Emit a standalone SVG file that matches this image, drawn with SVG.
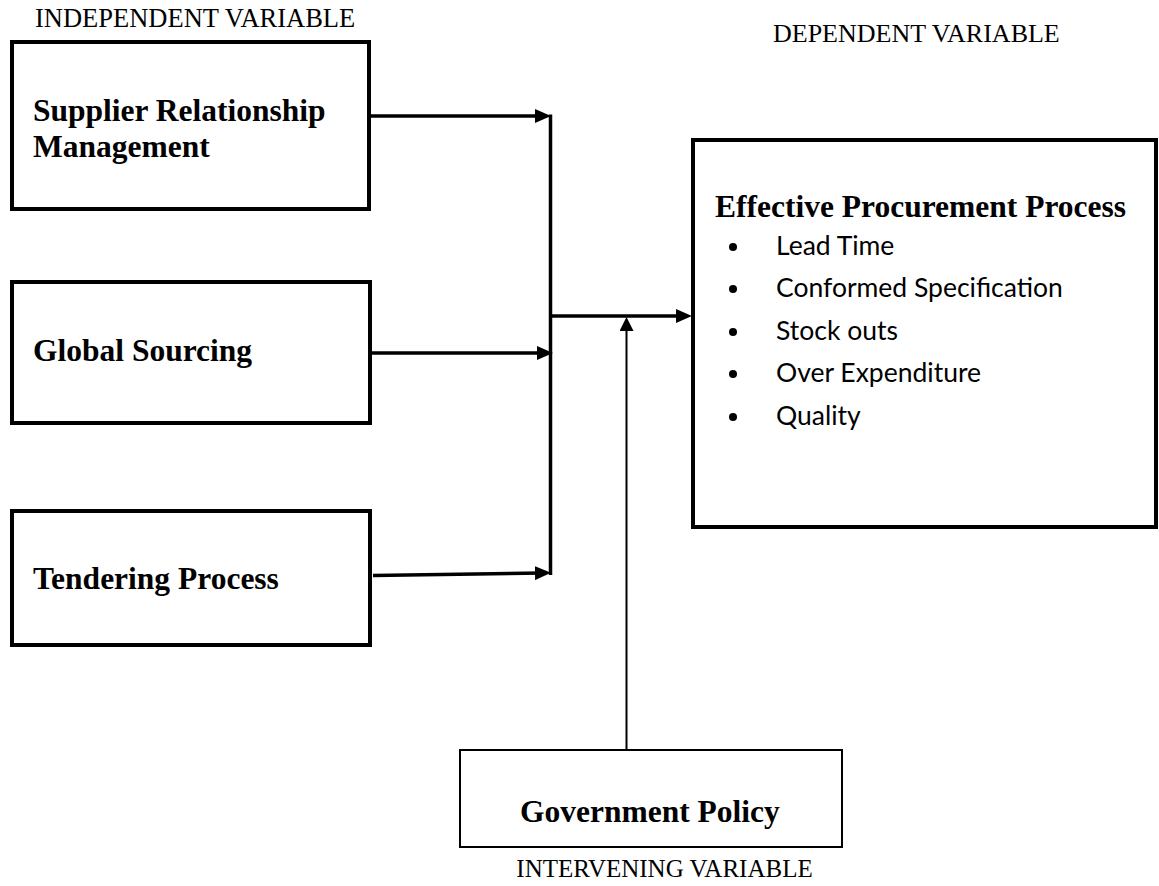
<svg xmlns="http://www.w3.org/2000/svg" width="1159" height="886" viewBox="0 0 1159 886">
<style>
.box{fill:#fff;stroke:#000;stroke-width:4}
.thin{fill:#fff;stroke:#000;stroke-width:2}
.title{font-family:"Liberation Serif","Times New Roman",serif;font-weight:bold;font-size:31.5px;fill:#000}
.label{font-family:"Liberation Serif","Times New Roman",serif;font-size:26px;fill:#000}
.item{font-family:Lato,"Open Sans",sans-serif;font-size:26.5px;fill:#000}
.conn{fill:none;stroke:#000;stroke-width:3.5}
.conn2{fill:none;stroke:#000;stroke-width:2}
</style>
<defs>
<marker id="ah" viewBox="0 0 16 14" refX="7" refY="7" markerWidth="16" markerHeight="14" markerUnits="userSpaceOnUse" orient="auto">
<path d="M0,0 L16,7 L0,14 z" fill="#000"/>
</marker>
<marker id="ah2" viewBox="0 0 14 14" refX="5" refY="7" markerWidth="14" markerHeight="14" markerUnits="userSpaceOnUse" orient="auto">
<path d="M0,0 L14,7 L0,14 z" fill="#000"/>
</marker>
</defs>
<rect width="1159" height="886" fill="#fff"/>
<text class="label" x="35" y="27" style="font-size:26.5px">INDEPENDENT VARIABLE</text>
<text class="label" x="773" y="42">DEPENDENT VARIABLE</text>
<text class="label" x="664.5" y="877" text-anchor="middle" style="font-size:25px">INTERVENING VARIABLE</text>
<g id="connectors">
<line class="conn" x1="369" y1="116" x2="542" y2="116" marker-end="url(#ah)"/>
<line class="conn" x1="372" y1="353" x2="544" y2="353" marker-end="url(#ah)"/>
<line class="conn" x1="373" y1="575.5" x2="542" y2="573" marker-end="url(#ah)"/>
<line class="conn" x1="550.5" y1="114.5" x2="550.5" y2="575"/>
<line class="conn" x1="549" y1="316" x2="683" y2="316" marker-end="url(#ah)"/>
<line class="conn2" x1="626.5" y1="750" x2="626.5" y2="326" marker-end="url(#ah2)"/>
</g>
<g id="supplier">
<rect class="box" x="12" y="42" width="357" height="167"/>
<text class="title" x="33" y="121">Supplier Relationship</text>
<text class="title" x="33" y="157">Management</text>
</g>
<g id="global">
<rect class="box" x="12" y="282" width="358" height="141"/>
<text class="title" x="33" y="361">Global Sourcing</text>
</g>
<g id="tendering">
<rect class="box" x="12" y="511" width="358" height="134"/>
<text class="title" x="33" y="589">Tendering Process</text>
</g>
<g id="effective">
<rect class="box" x="693" y="140" width="463" height="387"/>
<text class="title" x="715" y="217">Effective Procurement Process</text>
<circle cx="733" cy="247" r="4"/>
<text class="item" x="776" y="255">Lead Time</text>
<circle cx="733" cy="289" r="4"/>
<text class="item" x="776" y="297">Conformed Specification</text>
<circle cx="733" cy="332" r="4"/>
<text class="item" x="776" y="340">Stock outs</text>
<circle cx="733" cy="374" r="4"/>
<text class="item" x="776" y="382">Over Expenditure</text>
<circle cx="733" cy="417" r="4"/>
<text class="item" x="776" y="425">Quality</text>
</g>
<g id="government">
<rect class="thin" x="460" y="750" width="382" height="97"/>
<text class="title" x="520" y="822">Government Policy</text>
</g>
</svg>
